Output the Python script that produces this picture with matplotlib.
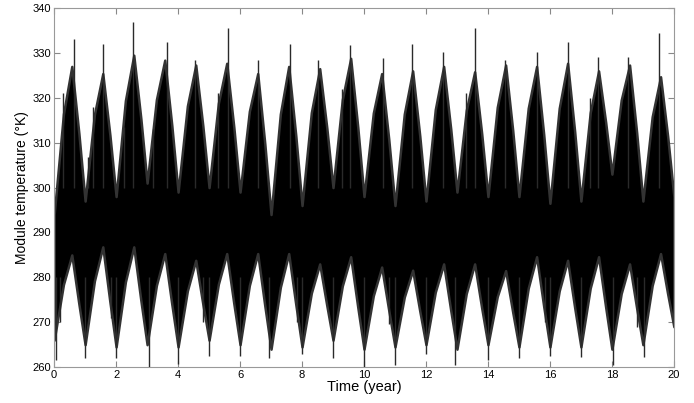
import numpy as np
import matplotlib
matplotlib.use("Agg")
from matplotlib import pyplot as plt

# envelope of the hourly module temperature
# per year k: points at k, k+0.3, k+0.57 (summer peak), k+0.8, and the end at 20
env_t = [k + p for k in range(20) for p in (0.0, 0.3, 0.57, 0.8)] + [20.0]

upper = [294, 316.4, 327, 312,
         297, 316.3, 325.4, 311.7,
         298, 319.4, 329.5, 315.3,
         301, 319.6, 328.4, 313.7,
         299, 318.2, 327.3, 313.7,
         300, 318.8, 327.7, 313.4,
         299, 317, 325.4, 309.7,
         294, 316.4, 327, 311.5,
         296, 316.7, 326.5, 313.3,
         300, 319.6, 328.8, 313.4,
         298, 316.6, 325.4, 310.7,
         296, 316.4, 326, 311.5,
         297, 317.4, 327, 313,
         299, 317.2, 325.8, 311.9,
         298, 317.9, 327.3, 312.7,
         298, 317.7, 327, 311.8,
         296.5, 317.7, 327.7, 312.4,
         297, 316.7, 326, 314.5,
         303, 319.5, 327.3, 312.2,
         297, 315.8, 324.7, 311.4,
         298]

lower = [266, 278.4, 285, 274,
         265, 279.2, 286.8, 274.5,
         264.5, 279, 286.8, 274.8,
         265, 278.2, 285.3, 273.9,
         264.5, 277, 283.8, 274,
         266, 278.5, 285.3, 274.1,
         265, 278.2, 285.3, 273.6,
         264, 277.8, 285.3, 273.9,
         264.5, 276.5, 283, 273.7,
         266, 278.1, 284.6, 273.3,
         264, 275.9, 282.3, 272.6,
         264.5, 275.6, 281.6, 272.5,
         265, 276.7, 283, 272.6,
         264, 276.4, 283, 273.1,
         265, 275.7, 281.5, 272.2,
         264.5, 277.6, 284.6, 273.5,
         264.5, 277, 283.8, 273.2,
         264.5, 277.6, 284.6, 273.3,
         264, 276.4, 283, 273.1,
         265, 278.2, 285.3, 276.3,
         269]

# the tallest single spikes above / below the band
spike_hi_t = [0.65, 1.59, 2.56, 3.63, 4.55, 5.62, 6.59, 7.6, 8.53, 9.55,
              10.62, 11.54, 12.56, 13.58, 14.55, 15.57, 16.59, 17.56, 18.53, 19.53,
              1.08, 1.24, 2.26, 3.18, 0.28, 5.3, 9.3, 13.3, 17.3]
spike_hi = [333, 332, 337, 332.5, 328.5, 335.5, 328.4, 332, 328.5, 331.7,
            328.8, 332, 330.3, 335.5, 328.5, 330.3, 332.5, 329, 329, 334.4,
            306.9, 318, 313.5, 313, 321, 321, 322, 321, 320]
spike_lo_t = [0.05, 1.0, 2.0, 3.05, 4.0, 5.0, 6.0, 6.95, 8.0, 9.0,
              10.0, 11.0, 12.0, 12.95, 14.0, 15.0, 16.0, 17.0, 18.05, 19.05,
              0.2, 1.85, 4.8, 7.85, 10.8, 15.85, 18.8]
spike_lo = [261.5, 262, 262, 260, 260.8, 262.5, 262.5, 262, 263, 262,
            260, 260.4, 263, 260.4, 261.5, 262, 262.5, 262.3, 260.4, 262.3,
            270, 271, 270, 270, 269.5, 270, 269]

plt.rcParams['font.family'] = ['Liberation Sans', 'DejaVu Sans']

fig = plt.figure(figsize=(6.94, 4.03), dpi=100)
ax = fig.add_axes([0.078, 0.089, 0.893, 0.891])

ax.fill_between(env_t, lower, upper, color='black', edgecolor='#333333', linewidth=1.8, zorder=2)
ax.vlines(spike_hi_t, 300, spike_hi, color='#2a2a2a', linewidth=1.0, zorder=3)
ax.vlines(spike_lo_t, spike_lo, 280, color='#2a2a2a', linewidth=1.0, zorder=3)

ax.set_xlim(0, 20)
ax.set_ylim(260, 340)
ax.set_xticks(np.arange(0, 21, 2))
ax.set_yticks(np.arange(260, 341, 10))
ax.tick_params(direction='in', top=True, right=True, length=4, color='#888888',
               labelsize=8, pad=2)
for s in ax.spines.values():
    s.set_color('#999999')
    s.set_linewidth(0.8)

ax.set_xlabel('Time (year)', fontsize=10.5, labelpad=0)
ax.set_ylabel('Module temperature (\u00b0K)', fontsize=10, labelpad=3)

fig.savefig('out.png', dpi=100)
